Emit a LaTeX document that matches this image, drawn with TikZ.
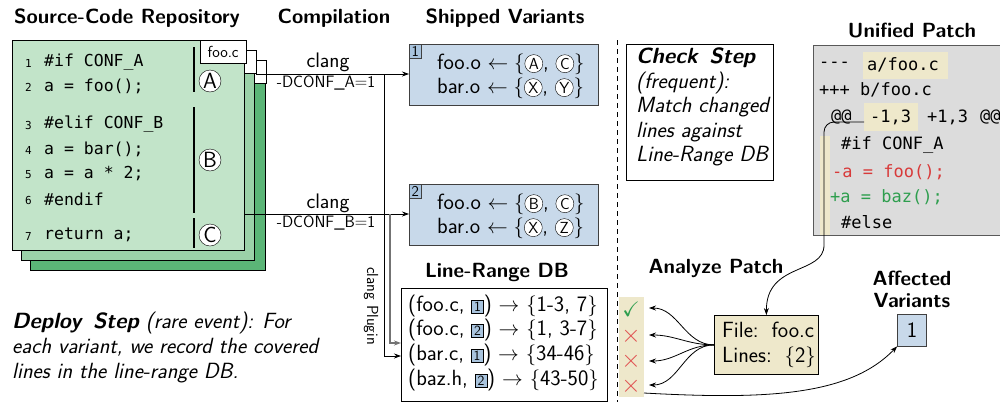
\documentclass[tikz,border=0pt]{standalone}
\usepackage{fontspec}
\usepackage{amssymb}
\usetikzlibrary{arrows.meta}
\newfontfamily\codefont[WordSpace=0.6]{DejaVu Sans Mono}
\newfontfamily\patchfont{DejaVu Sans Mono}
\definecolor{greenA}{HTML}{C2E4C9}
\definecolor{greenB}{HTML}{9BD1A8}
\definecolor{greenC}{HTML}{5BB577}
\definecolor{varblue}{HTML}{C8D9EA}
\definecolor{sqblue}{HTML}{A9C4DE}
\definecolor{patchgray}{HTML}{DCDCDC}
\definecolor{hlbeige}{HTML}{EEE8CB}
\definecolor{delred}{HTML}{D83A3A}
\definecolor{addgreen}{HTML}{2E9E4E}
\definecolor{xred}{HTML}{E05050}
\newcommand\fs[1]{\fontsize{#1}{#1}\selectfont}
\newcommand\fsl[2]{\fontsize{#1}{#2}\selectfont}
\newcommand\circled[1]{\tikz[baseline=(cl.base)]\node[draw,circle,fill=white,inner sep=0pt,minimum size=18pt,font=\sffamily\fs{16}](cl){#1};}
\newcommand\vsq[1]{\tikz[baseline=(sq.base)]\node[draw,fill=sqblue,inner sep=0pt,minimum width=12pt,minimum height=13pt,font=\sffamily\fs{14}](sq){#1};}
\begin{document}
\begin{tikzpicture}[x=1pt,y=-1pt,
  every node/.style={font=\sffamily\fs{22},inner sep=0pt},
  title/.style={font=\sffamily\bfseries\fs{20.5}},
  page/.style={draw,line width=0.8pt},
  tab/.style={draw,fill=white,anchor=north west,minimum width=46pt,minimum height=23pt,font=\sffamily\fs{16}},
  code/.style={anchor=west,font=\codefont\fs{16.5}},
  lno/.style={anchor=west,font=\codefont\fs{11}},
  region/.style={line width=1.1pt},
  badge/.style={draw,circle,fill=white,minimum size=22pt,font=\sffamily\fs{22}},
  variant/.style={draw=black!75,fill=varblue,line width=0.8pt,anchor=north west},
  vnum/.style={draw=black!75,fill=sqblue,anchor=north west,minimum width=12pt,minimum height=14pt,font=\sffamily\fs{15}},
  vline/.style={anchor=west},
  opt/.style={font=\sffamily\fs{16.5}},
  arr/.style={-{Stealth[length=7pt,width=5pt]},line width=0.8pt},
  ptext/.style={anchor=west,font=\patchfont\fs{17}},
  hl/.style={fill=hlbeige}]
\useasboundingbox (0,0) rectangle (1000,402);

% ---------- titles ----------
\node[title] at (127,18) {Source-Code Repository};
\node[title] at (334,18) {Compilation};
\node[title] at (505,18) {Shipped Variants};
\node[title] at (912,30) {Unified Patch};
\node[title] at (497,272) {Line-Range DB};
\node[title] at (716,268) {Analyze Patch};
\node[title,align=center,font=\sffamily\bfseries\fsl{20.5}{22}] at (912,289) {Affected\\Variants};

% ---------- stacked source files ----------
\filldraw[page,fill=greenC] (30,60) rectangle (265,270);
\node[tab] (tab3) at (220,60) {};
\filldraw[page,fill=greenB] (21,50) rectangle (254,260);
\node[tab] (tab2) at (210,50) {};
\filldraw[page,fill=greenA] (12,40) rectangle (244,250);
\node[tab] (tab1) at (200,40) {foo.c};

% line numbers and code
\foreach \n/\y in {1/62,2/86,3/124,4/149,5/174,6/199,7/235}
  \node[lno] at (25,\y+1) {\n};
\node[code] (c1) at (44,62) {\#if CONF\_A};
\node[code] (c2) at (44,86) {a = foo();};
\node[code] (c3) at (44,124) {\#elif CONF\_B};
\node[code] (c4) at (44,149) {a = bar();};
\node[code] (c5) at (44,174) {a = a * 2;};
\node[code] (c6) at (44,199) {\#endif};
\node[code] (c7) at (44,235) {return a;};

% preprocessor regions
\draw[region] (194,47) -- (194,92);
\draw[region] (194,107) -- (194,213);
\draw[region] (194,218) -- (194,248);
\node[badge] (ra) at (210,81) {A};
\node[badge] (rb) at (210,160) {B};
\node[badge] (rc) at (210,235) {C};

% ---------- shipped variants ----------
\node[variant,minimum width=189pt,minimum height=61pt] (v1) at (409,44) {};
\node[vnum] at (v1.north west) {1};
\node[vline] at (437,64) {foo.o $\leftarrow\{$\circled{A}, \circled{C}$\}$};
\node[vline] at (437,88) {bar.o $\leftarrow\{$\circled{X}, \circled{Y}$\}$};

\node[variant,minimum width=189pt,minimum height=61pt] (v2) at (409,184) {};
\node[vnum] at (v2.north west) {2};
\node[vline] at (437,204) {foo.o $\leftarrow\{$\circled{B}, \circled{C}$\}$};
\node[vline] at (437,228) {bar.o $\leftarrow\{$\circled{X}, \circled{Z}$\}$};

% ---------- compilation ----------
\coordinate (outA) at (256,74);
\coordinate (outB) at (244,214);
\draw[arr] (outA) -- (v1.west |- outA);
\draw[arr] (outB) -- (v2.west |- outB);
\node[font=\sffamily\fs{21}] at (328,62) {clang};
\node[opt] at (326,83) {-DCONF\_A$=$1};
\node[font=\sffamily\fs{21}] at (328,203) {clang};
\node[opt] at (326,223) {-DCONF\_B$=$1};

% ---------- line-range DB ----------
\node[draw,line width=0.8pt,anchor=north west,minimum width=206pt,minimum height=113pt] (db) at (401,288) {};
\node[anchor=west] at (408,306) {(foo.c, \vsq{1}) $\rightarrow$ $\{$1-3, 7$\}$};
\node[anchor=west] at (408,330) {(foo.c, \vsq{2}) $\rightarrow$ $\{$1, 3-7$\}$};
\node[anchor=west] at (408,355) {(bar.c, \vsq{1}) $\rightarrow$ $\{$34-46$\}$};
\node[anchor=west] at (408,380) {(baz.h, \vsq{2}) $\rightarrow$ $\{$43-50$\}$};

\coordinate (tapA) at (384,74);
\coordinate (tapB) at (390,214);
\coordinate (inA) at (401,356);
\coordinate (inB) at (401,343);
\draw[arr] (tapA) |- (inA);
\draw[arr,draw=black!55,line width=1.8pt] (tapB) |- (inB);
\node[font=\sffamily\fs{16},rotate=-90] at (371,306) {clang Plugin};

% ---------- deploy step ----------
\node[anchor=north west,align=left,font=\sffamily\itshape\fsl{22}{25}] at (12,312)
  {\textbf{Deploy\, Step} (rare event): For\\each variant, we record the covered\\lines in the line-range DB.};

% ---------- separator ----------
\draw[dash pattern=on 5pt off 4pt,line width=0.8pt] (617,40) -- (617,402);

% ---------- check step ----------
\node[draw,line width=0.8pt,anchor=north west,minimum width=147pt,minimum height=136pt] (chk) at (626,44) {};
\node[anchor=north west,align=left,font=\sffamily\itshape\fsl{22}{24.5}] at (636,48)
  {\textbf{Check\, Step}\\(frequent):\\Match changed\\lines against\\Line-Range DB};

% ---------- unified patch ----------
\node[draw=black!65,fill=patchgray,line width=1pt,anchor=north west,minimum width=192pt,minimum height=190pt] (patch) at (813,45) {};
\fill[hl] (863,52) rectangle (948,79);
\fill[hl] (864,103) rectangle (918,131);
\fill[hl] (820,136) rectangle (830,235);
\node[ptext] at (819,65) {-{}-{}-};
\node[ptext] at (867,65) {a/foo.c};
\node[ptext] at (819,90) {+++ b/foo.c};
\node[ptext] at (831,117) {@@};
\node[ptext] at (870,117) {-1,3};
\node[ptext] at (927,117) {+1,3};
\node[ptext] (atr) at (980,117) {@@};
\node[ptext] at (841,145) {\#if CONF\_A};
\node[ptext,text=delred] at (832,172) {-a = foo();};
\node[ptext,text=addgreen] at (830,197) {+a = baz();};
\node[ptext] at (841,222) {\#else};

% ---------- analyze patch ----------
\node[draw,line width=0.8pt,fill=hlbeige,anchor=north west,minimum width=104pt,minimum height=59pt] (file) at (714,315) {};
\node[anchor=west,align=left,font=\sffamily\fsl{22}{25}] at (722,345) {File:\, foo.c\\Lines:\, $\{$2$\}$};

\node[fill=hlbeige,anchor=north west,minimum width=25pt,minimum height=100pt] (checks) at (619,297) {};
\node[text=addgreen,font=\fs{21}] (m1) at (631,309) {$\checkmark$};
\node[text=xred,font=\fs{24}] (m2) at (631,336) {$\times$};
\node[text=xred,font=\fs{24}] (m3) at (631,361) {$\times$};
\node[text=xred,font=\fs{24}] (m4) at (631,386) {$\times$};

\coordinate (hunk) at (864,122);
\coordinate (t1) at (649,308);
\coordinate (t2) at (649,335);
\coordinate (t3) at (649,361);
\coordinate (t4) at (649,385);
\foreach \t in {t1,t2,t3,t4}
  \draw[arr] (file.west) to[out=180,in=0] (\t);

\draw[arr,rounded corners=10pt] (hunk) -- (824,122) -- (824,235)
  .. controls (824,275) and (766,262) .. (file.north);

\node[variant,anchor=center,minimum width=29pt,minimum height=32pt] (aff) at (912,330) {1};
\coordinate (cb) at (644,393);
\draw[arr] (cb) .. controls (770,400) and (850,395) .. (aff.south west);
\end{tikzpicture}
\end{document}
